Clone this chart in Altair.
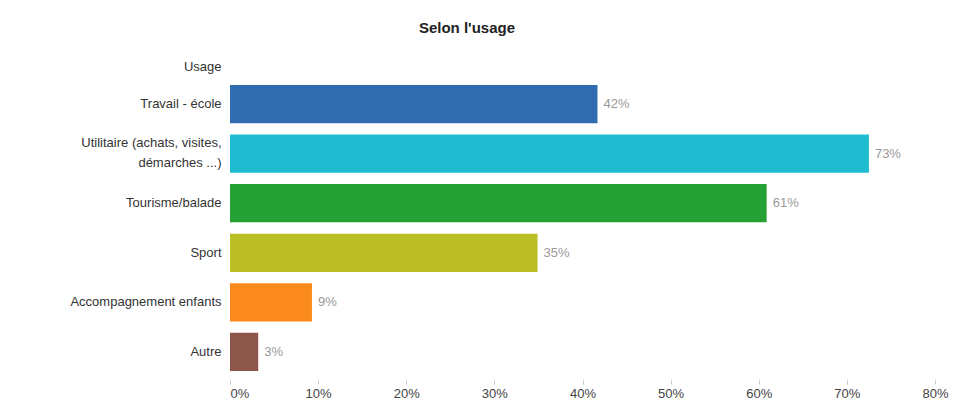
import altair as alt
import pandas as pd

categories = [
    "Travail - école",
    "Utilitaire (achats, visites,|démarches ...)",
    "Tourisme/balade",
    "Sport",
    "Accompagnement enfants",
    "Autre",
]
values = [0.417, 0.725, 0.609, 0.349, 0.093, 0.032]
labels = ["42%", "73%", "61%", "35%", "9%", "3%"]
colors = ["#2f6db0", "#1fbbd0", "#25a136", "#bcbe26", "#fb8a1c", "#8c564b"]

df = pd.DataFrame({"cat": categories, "val": values, "lab": labels})

font = "Liberation Sans"

y_enc = alt.Y(
    "cat:N",
    sort=categories,
    scale=alt.Scale(paddingInner=0.23, paddingOuter=0.12),
    axis=alt.Axis(
        title="Usage",
        titleAngle=0,
        titleAlign="right",
        titleBaseline="middle",
        titleX=-9,
        titleY=-13,
        titleFont=font,
        titleFontSize=13,
        titleFontWeight="normal",
        titleColor="#333333",
        labelExpr="split(datum.label, '|')",
        labelOffset=alt.ExprRef("indexof(datum.value, '|') >= 0 ? -11 : 0"),
        labelFont=font,
        labelFontSize=13,
        labelColor="#333333",
        labelLineHeight=20,
        labelPadding=9,
        ticks=False,
        domain=False,
        labelLimit=400,
    ),
)

x_enc = alt.X(
    "val:Q",
    scale=alt.Scale(domain=[0, 0.8]),
    axis=alt.Axis(
        title=None,
        format=".0%",
        values=[0, 0.1, 0.2, 0.3, 0.4, 0.5, 0.6, 0.7, 0.8],
        grid=False,
        domain=False,
        offset=2,
        tickColor="#cccccc",
        tickSize=5,
        labelFont=font,
        labelFontSize=13,
        labelColor="#444444",
        labelFlush=False,
        labelAlign=alt.ExprRef("datum.value === 0 ? 'left' : 'center'"),
        labelPadding=3,
    ),
)

bars = alt.Chart(df).mark_bar().encode(
    y=y_enc,
    x=x_enc,
    color=alt.Color("cat:N", sort=categories,
                    scale=alt.Scale(domain=categories, range=colors), legend=None),
)

text = alt.Chart(df).mark_text(
    align="left", baseline="middle", dx=6, font=font, fontSize=13, color="#999999"
).encode(
    y=alt.Y("cat:N", sort=categories),
    x="val:Q",
    text="lab:N",
)

chart = (
    alt.layer(bars, text)
    .properties(
        width=705,
        height=298,
        title=alt.TitleParams(
            "Selon l'usage", font=font, fontSize=15, fontWeight="bold",
            color="#222222", anchor="middle", frame="bounds", dx=-42, offset=24,
        ),
    )
    .configure(padding={"left": 61, "top": 13, "right": 0, "bottom": 0})
    .configure_view(strokeWidth=0)
)

chart.save("out.html", embed_options={"renderer": "svg", "actions": False})
